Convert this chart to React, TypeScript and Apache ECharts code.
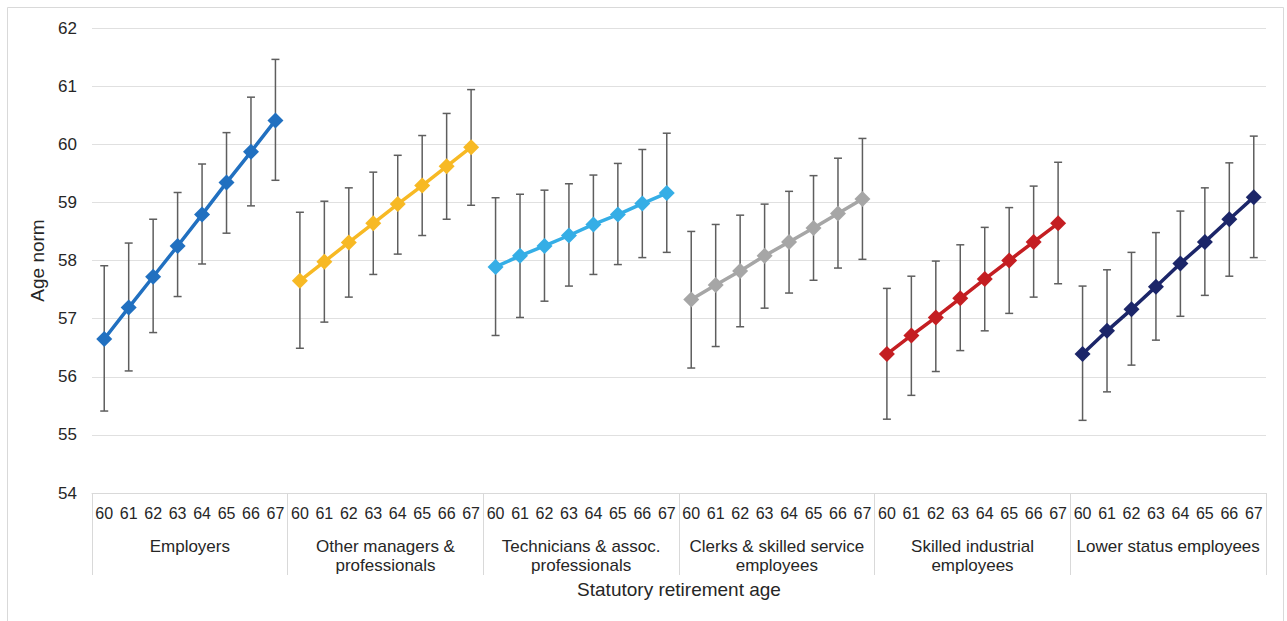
import React, { useEffect, useRef } from "react";
import * as echarts from "echarts";

const groups = [
  "Employers",
  "Other managers &\nprofessionals",
  "Technicians & assoc.\nprofessionals",
  "Clerks & skilled service\nemployees",
  "Skilled industrial\nemployees",
  "Lower status employees",
];
const ages = ["60", "61", "62", "63", "64", "65", "66", "67"];
const colors = ["#2170C0", "#F7B924", "#35AEE6", "#A6A6A6", "#C41E22", "#1C2669"];

const employers = [56.65, 57.19, 57.72, 58.25, 58.79, 59.34, 59.87, 60.41];
const employersLow = [55.41, 56.1, 56.76, 57.38, 57.94, 58.47, 58.94, 59.38];
const employersHigh = [57.91, 58.3, 58.71, 59.17, 59.66, 60.2, 60.81, 61.46];

const managers = [57.65, 57.98, 58.31, 58.64, 58.97, 59.29, 59.62, 59.95];
const managersLow = [56.49, 56.94, 57.37, 57.76, 58.11, 58.43, 58.71, 58.95];
const managersHigh = [58.83, 59.02, 59.25, 59.52, 59.81, 60.15, 60.53, 60.94];

const technicians = [57.89, 58.08, 58.25, 58.43, 58.62, 58.79, 58.98, 59.16];
const techniciansLow = [56.71, 57.02, 57.3, 57.56, 57.76, 57.93, 58.05, 58.14];
const techniciansHigh = [59.08, 59.14, 59.21, 59.32, 59.47, 59.67, 59.91, 60.19];

const clerks = [57.33, 57.58, 57.82, 58.08, 58.32, 58.56, 58.81, 59.06];
const clerksLow = [56.15, 56.52, 56.86, 57.18, 57.44, 57.66, 57.87, 58.02];
const clerksHigh = [58.5, 58.62, 58.78, 58.97, 59.19, 59.46, 59.76, 60.1];

const industrial = [56.39, 56.71, 57.02, 57.35, 57.68, 58.0, 58.32, 58.64];
const industrialLow = [55.27, 55.68, 56.09, 56.45, 56.79, 57.09, 57.37, 57.6];
const industrialHigh = [57.52, 57.73, 57.99, 58.27, 58.57, 58.91, 59.28, 59.69];

const lower = [56.39, 56.79, 57.16, 57.55, 57.95, 58.32, 58.71, 59.09];
const lowerLow = [55.25, 55.74, 56.2, 56.63, 57.04, 57.4, 57.73, 58.05];
const lowerHigh = [57.56, 57.84, 58.14, 58.48, 58.85, 59.25, 59.68, 60.14];

const means = [employers, managers, technicians, clerks, industrial, lower];
const lows = [employersLow, managersLow, techniciansLow, clerksLow, industrialLow, lowerLow];
const highs = [employersHigh, managersHigh, techniciansHigh, clerksHigh, industrialHigh, lowerHigh];

const FONT = "'Liberation Sans', Arial, sans-serif";
const TEXT = "#262626";

export default function App() {
  const ref = useRef<HTMLDivElement>(null);
  useEffect(() => {
    document.body.style.margin = "0";
    if (!ref.current) return;
    const chart = echarts.init(ref.current, null, { renderer: "svg" });

    const categories: string[] = [];
    groups.forEach(() => ages.forEach((a) => categories.push(a)));
    const n = ages.length;

    const lineSeries = means.map((vals, g) => {
      const data: (number | null)[] = categories.map(() => null);
      vals.forEach((v, i) => (data[g * n + i] = v));
      return {
        type: "line",
        name: groups[g],
        data,
        xAxisIndex: 0,
        yAxisIndex: 0,
        symbol: "diamond",
        symbolSize: 16,
        z: 5,
        lineStyle: { color: colors[g], width: 3.5 },
        itemStyle: { color: colors[g] },
      };
    });

    const errData: number[][] = [];
    lows.forEach((lo, g) =>
      lo.forEach((l, i) => errData.push([g * n + i, l, highs[g][i]]))
    );

    const errSeries = {
      type: "custom",
      xAxisIndex: 0,
      yAxisIndex: 0,
      z: 3,
      data: errData,
      encode: { x: 0, y: [1, 2] },
      renderItem: (params: any, api: any) => {
        const x = api.value(0);
        const lo = api.coord([x, api.value(1)]);
        const hi = api.coord([x, api.value(2)]);
        const cap = 4;
        const style = { stroke: "#5e5e5e", lineWidth: 1.5 };
        return {
          type: "group",
          children: [
            { type: "line", shape: { x1: lo[0], y1: lo[1], x2: hi[0], y2: hi[1] }, style },
            { type: "line", shape: { x1: lo[0] - cap, y1: lo[1], x2: lo[0] + cap, y2: lo[1] }, style },
            { type: "line", shape: { x1: hi[0] - cap, y1: hi[1], x2: hi[0] + cap, y2: hi[1] }, style },
          ],
        };
      },
    };

    chart.setOption({
      animation: false,
      textStyle: { fontFamily: FONT },
      grid: { left: 92, right: 21, top: 28, bottom: 128 },
      graphic: [
        {
          type: "rect",
          shape: { x: 7.5, y: 7.5, width: 1276, height: 640 },
          style: { fill: "none", stroke: "#d9d9d9", lineWidth: 1 },
          silent: true,
        },
      ],
      xAxis: [
        {
          type: "category",
          data: categories,
          position: "bottom",
          axisLine: { show: true, lineStyle: { color: "#d9d9d9" } },
          axisTick: { show: false },
          axisLabel: { interval: 0, margin: 12, fontSize: 16, color: TEXT, fontFamily: FONT },
        },
        {
          type: "category",
          data: groups,
          position: "bottom",
          name: "Statutory retirement age",
          nameLocation: "middle",
          nameGap: 87,
          nameTextStyle: { fontSize: 19, color: TEXT, fontFamily: FONT },
          axisLine: { show: false },
          axisTick: { show: true, length: 82, interval: 0, lineStyle: { color: "#d9d9d9" } },
          axisLabel: {
            interval: 0,
            margin: 44,
            fontSize: 17,
            lineHeight: 19,
            color: TEXT,
            fontFamily: FONT,
            verticalAlign: "top",
          },
        },
      ],
      yAxis: {
        type: "value",
        min: 54,
        max: 62,
        interval: 1,
        name: "Age norm",
        nameLocation: "middle",
        nameGap: 44,
        nameTextStyle: { fontSize: 19, color: TEXT, fontFamily: FONT },
        axisLine: { show: false },
        axisTick: { show: false },
        axisLabel: { fontSize: 17, color: TEXT, margin: 15, fontFamily: FONT },
        splitLine: { lineStyle: { color: "#e0e0e0", width: 1 } },
      },
      series: [errSeries, ...lineSeries],
    });
    return () => chart.dispose();
  }, []);
  return <div ref={ref} style={{ width: 1287, height: 621 }} />;
}
